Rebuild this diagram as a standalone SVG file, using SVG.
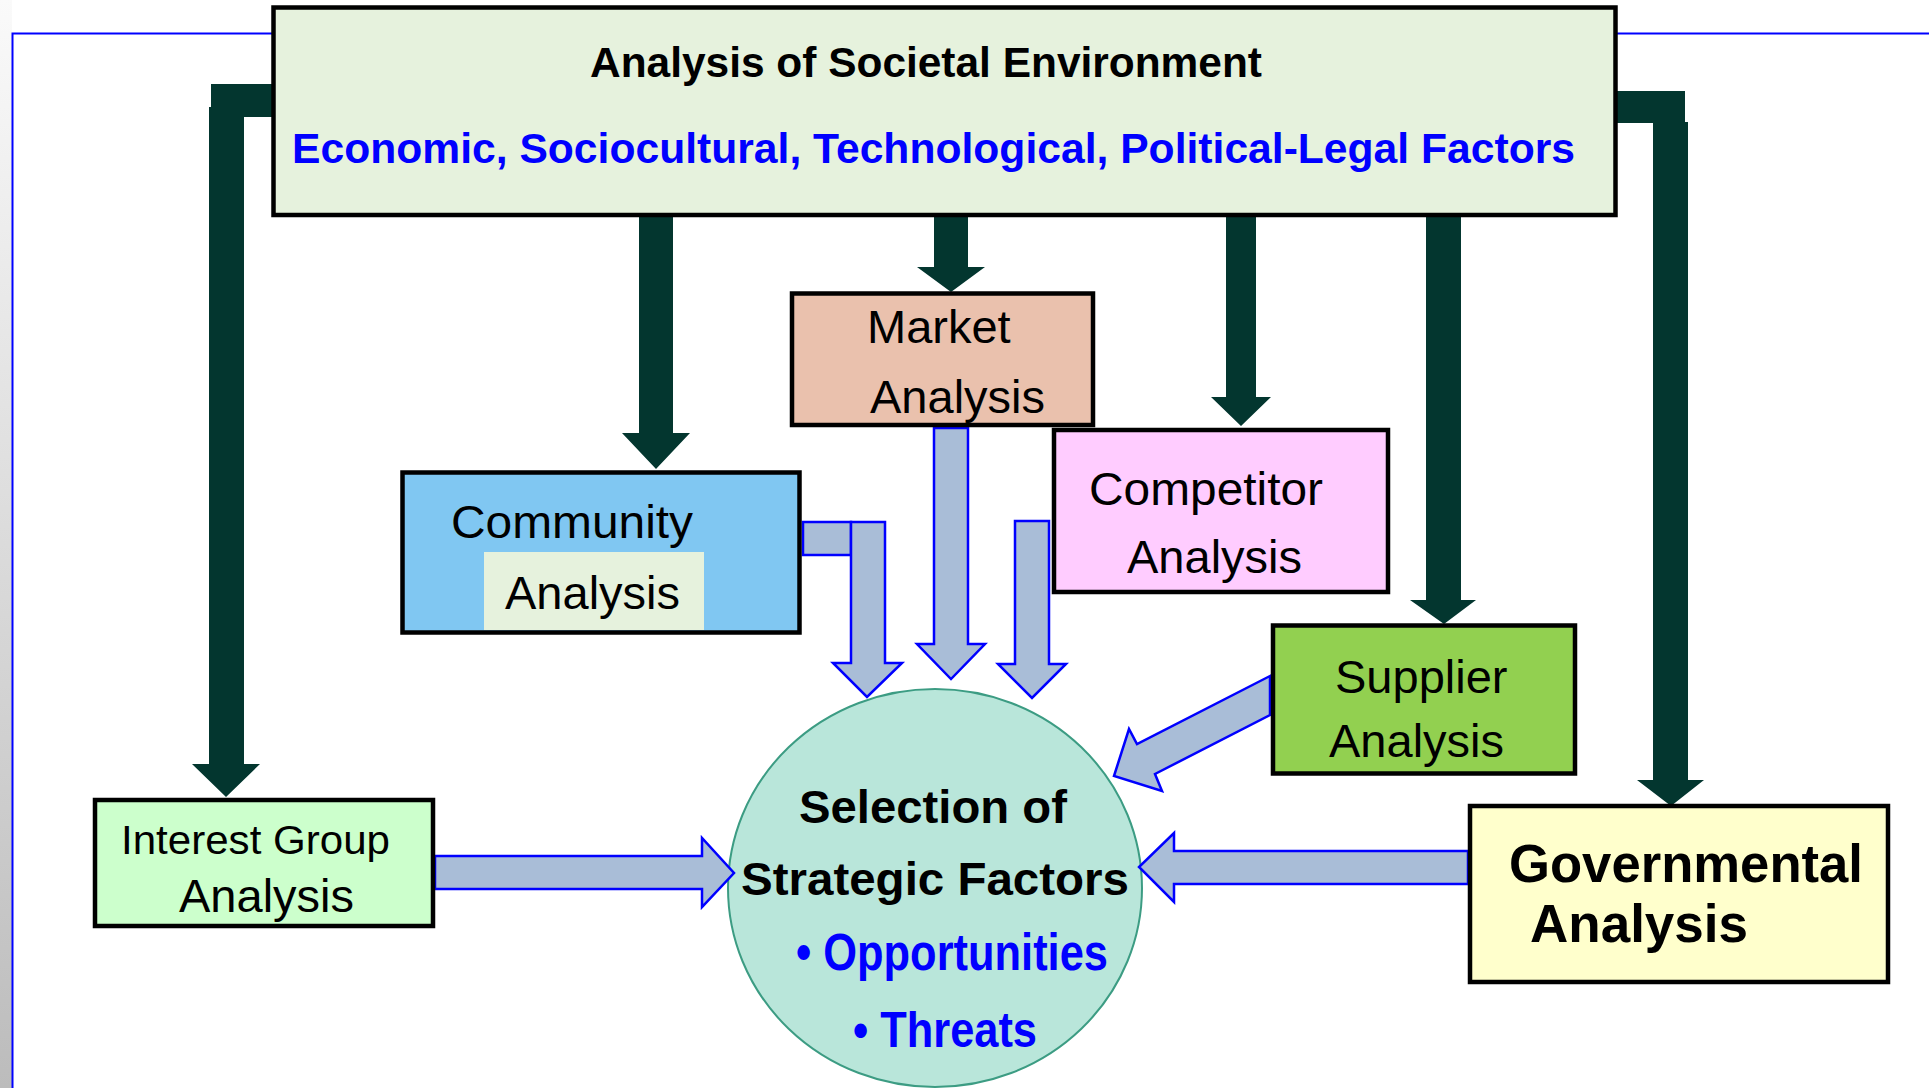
<svg xmlns="http://www.w3.org/2000/svg" width="1929" height="1088" viewBox="0 0 1929 1088">
<defs>
<linearGradient id="edge" x1="0" y1="0" x2="0" y2="1">
<stop offset="0" stop-color="#fafafa"/>
<stop offset="1" stop-color="#bcbcbc"/>
</linearGradient>
<style>
.box{stroke:#000;stroke-width:4.5}
.t{font-family:"Liberation Sans",Arial,sans-serif;fill:#000}
.b{font-weight:bold}
.blue{fill:#0000FF}
.dark{fill:#03362F;stroke:none}
.flow{fill:#A9BDD7;stroke:#0000FF;stroke-width:2.5;stroke-linejoin:miter}
</style>
</defs>
<rect x="0" y="0" width="1929" height="1088" fill="#ffffff"/>
<rect x="0" y="0" width="12" height="1088" fill="url(#edge)"/>
<path d="M12.5,1088 V33.5 H1929" fill="none" stroke="#0000FF" stroke-width="2"/>

<g id="node-selection">
<ellipse cx="935" cy="888" rx="207" ry="199" fill="#B9E6DA" stroke="#3C9C83" stroke-width="2"/>
<text class="t b" x="799" y="823" font-size="47" textLength="268" lengthAdjust="spacingAndGlyphs">Selection of</text>
<text class="t b" x="741" y="895" font-size="47" textLength="388" lengthAdjust="spacingAndGlyphs">Strategic Factors</text>
<text class="t b blue" x="796" y="970" font-size="52" textLength="312" lengthAdjust="spacingAndGlyphs">• Opportunities</text>
<text class="t b blue" x="853" y="1047" font-size="50" textLength="184" lengthAdjust="spacingAndGlyphs">• Threats</text>
</g>

<g id="connectors">
<path class="dark" d="M272,84 H211 V107 H209 V764 H192 L226,797 L260,764 H244 V117 H272 Z"/>
<path class="dark" d="M1616,91 H1685 V122 H1688 V780 H1704 L1671,806 L1637,780 H1653 V123 H1616 Z"/>
<path class="dark" d="M639,215 H673 V433 H690 L656,469 L622,433 H639 Z"/>
<path class="dark" d="M934,215 H968 V267 H985 L951,292 L917,267 H934 Z"/>
<path class="dark" d="M1226,215 H1256 V397 H1271 L1241,426 L1211,397 H1226 Z"/>
<path class="dark" d="M1426,215 H1461 V600 H1476 L1444,624 L1410,600 H1426 Z"/>
<rect class="flow" x="803" y="522" width="48" height="33"/>
<path class="flow" d="M851,522 H885 V663 H902 L867,697 L833,663 H851 Z"/>
<path class="flow" d="M934,428 H968 V644 H985 L951,679 L917,644 H934 Z"/>
<path class="flow" d="M1015,521 H1049 V664 H1066 L1032,698 L998,664 H1015 Z"/>
<path class="flow" d="M1270,676 L1137,744 L1129,729 L1114,776 L1162,791 L1155,774 L1270,715 Z"/>
<path class="flow" d="M435,856 H702 V838 L734,873 L702,907 V889 H435 Z"/>
<path class="flow" d="M1468,851 H1174 V833 L1139,867 L1174,902 V884 H1468 Z"/>
</g>

<g id="node-societal">
<rect class="box" x="273.5" y="7.5" width="1342" height="207.5" fill="#E6F2DD" stroke-width="5"/>
<text class="t b" x="590" y="77" font-size="42" textLength="672" lengthAdjust="spacingAndGlyphs">Analysis of Societal Environment</text>
<text class="t b blue" x="292" y="163" font-size="42" textLength="1283" lengthAdjust="spacingAndGlyphs">Economic, Sociocultural, Technological, Political-Legal Factors</text>
</g>

<g id="node-market">
<rect class="box" x="792" y="293.5" width="301" height="131.5" fill="#EAC1AD"/>
<text class="t" x="867" y="343" font-size="47">Market</text>
<text class="t" x="870" y="413" font-size="47">Analysis</text>
</g>

<g id="node-community">
<rect class="box" x="402.5" y="472.5" width="397" height="160" fill="#80C7F2"/>
<rect x="484" y="552" width="220" height="78" fill="#E6F2DD"/>
<text class="t" x="451" y="538" font-size="47" textLength="242" lengthAdjust="spacingAndGlyphs">Community</text>
<text class="t" x="505" y="609" font-size="47">Analysis</text>
</g>

<g id="node-competitor">
<rect class="box" x="1054" y="430" width="334" height="162" fill="#FFCCFF"/>
<text class="t" x="1089" y="505" font-size="47" textLength="234" lengthAdjust="spacingAndGlyphs">Competitor</text>
<text class="t" x="1127" y="573" font-size="47">Analysis</text>
</g>

<g id="node-supplier">
<rect class="box" x="1273" y="625.5" width="302" height="148" fill="#92D050"/>
<text class="t" x="1335" y="693" font-size="47">Supplier</text>
<text class="t" x="1329" y="757" font-size="47">Analysis</text>
</g>

<g id="node-interest">
<rect class="box" x="95" y="800" width="338" height="126" fill="#CCFFCC"/>
<text class="t" x="121" y="854" font-size="41.5" textLength="269" lengthAdjust="spacingAndGlyphs">Interest Group</text>
<text class="t" x="179" y="912" font-size="47">Analysis</text>
</g>

<g id="node-governmental">
<rect class="box" x="1470" y="806" width="418" height="176" fill="#FFFFCC"/>
<text class="t b" x="1509" y="882" font-size="53" textLength="354" lengthAdjust="spacingAndGlyphs">Governmental</text>
<text class="t b" x="1530" y="942" font-size="53">Analysis</text>
</g>
</svg>
